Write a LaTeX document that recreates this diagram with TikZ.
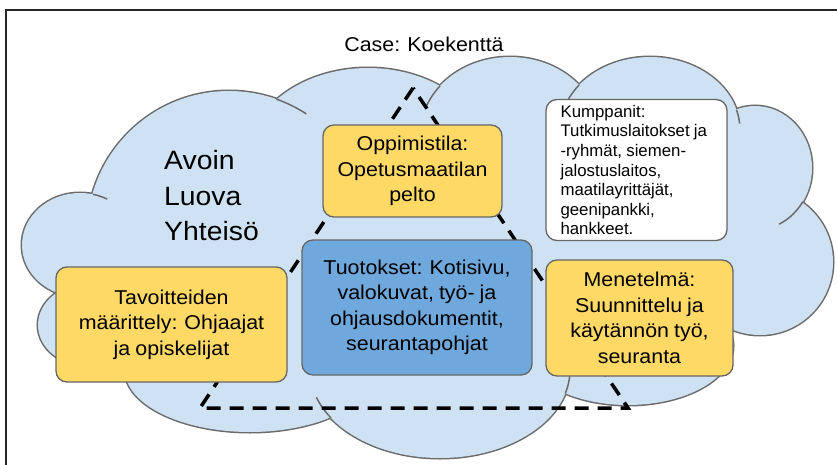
\documentclass[tikz,border=0pt]{standalone}
\usepackage{fontspec}
\setmainfont{Liberation Sans}[FakeStretch=1.07,WordSpace=0.85]
\newfontfamily\kumpfont{Liberation Sans}[WordSpace=0.9]
\usetikzlibrary{calc}
\definecolor{cloudfill}{HTML}{CFE2F3}
\definecolor{cloudline}{HTML}{6B6B6B}
\definecolor{boxyellow}{HTML}{FFD966}
\definecolor{boxblue}{HTML}{6FA8DC}
\definecolor{boxline}{HTML}{666666}
\begin{document}
\begin{tikzpicture}[x=1pt,y=-1pt,
  box/.style={draw=boxline, line width=1.3pt, rounded corners=11pt, inner sep=0pt, align=center, font=\fontsize{20}{25.5}\selectfont},
  lumpline/.style={draw=cloudline, line width=3pt},
  lumpfill/.style={fill=cloudfill},
  tail/.style={draw=cloudline, line width=1.5pt},
  tri/.style={line width=3.5pt, dash pattern=on 14pt off 9pt, line join=miter},
  frame/.style={line width=2pt, draw=black!85}]
\useasboundingbox (0,0) rectangle (837,465);
% frame (top and left sides)
\coordinate (ftl) at (6,10);
\coordinate (ftr) at (837,10);
\coordinate (fbl) at (6,465);
\draw[frame] (ftr) -- (ftl) -- (fbl);
% cloud lumps: outline pass
\foreach \cx/\cy/\rx/\ry in {80/245/58/52, 90/325/52/42, 250/370/125/62, 440/370/130/88, 628/346/105/59, 760/262/73/73, 755/168/57/62, 650/130/90/73, 510/135/90/78, 368/158/120/90, 229/233/142/142}
  \draw[lumpline] (\cx,\cy) ellipse [x radius=\rx, y radius=\ry];
% cloud lumps: fill pass
\foreach \cx/\cy/\rx/\ry in {80/245/58/52, 90/325/52/42, 250/370/125/62, 440/370/130/88, 628/346/105/59, 760/262/73/73, 755/168/57/62, 650/130/90/73, 510/135/90/78, 368/158/120/90, 229/233/142/142, 430/245/330/140}
  \fill[lumpfill] (\cx,\cy) ellipse [x radius=\rx, y radius=\ry];
% cloud inner tails
\foreach \cx/\cy/\rx/\ry/\aa/\ab in {229/233/142/142/-70.5/-57, 80/245/58/52/-77/-62, 510/135/90/78/-141/-158, 650/130/90/73/-142/-155, 650/130/90/73/-16/-5, 755/168/57/62/33/65, 440/370/130/88/147/162, 440/370/130/88/15.5/3}
  \draw[tail] ({\cx+\rx*cos(\aa)},{\cy+\ry*sin(\aa)}) arc[start angle=\aa, end angle=\ab, x radius=\rx, y radius=\ry];
% dashed triangle
\coordinate (apex) at (413,88);
\coordinate (tbl) at (200,408);
\coordinate (tbr) at (628,408);
\draw[tri] (apex) -- (tbl) -- (tbr) -- cycle;
% boxes
\node[box, fill=boxyellow, minimum width=179pt, minimum height=92pt] (oppi) at (412.5,171) {Oppimistila:\\Opetusmaatilan\\pelto};
\node[box, fill=boxblue, minimum width=230pt, minimum height=135pt] (tuot) at (417,307.5) {Tuotokset: Kotisivu,\\valokuvat, työ- ja\\ohjausdokumentit,\\seurantapohjat};
\node[box, fill=boxyellow, minimum width=231pt, minimum height=115pt] (tav) at (171.5,324.5) {Tavoitteiden\\määrittely: Ohjaajat\\ja opiskelijat};
\node[box, fill=boxyellow, minimum width=187pt, minimum height=116pt] (men) at (639.5,318) {Menetelmä:\\Suunnittelu ja\\käytännön työ,\\seuranta};
\node[box, fill=white, minimum width=181pt, minimum height=141pt] (kump) at (636.5,170) {};
\node[anchor=west, align=left, inner sep=0pt, font=\kumpfont\fontsize{16.8}{19.6}\selectfont] (kumptext) at ([xshift=15pt]kump.west) {Kumppanit:\\Tutkimuslaitokset ja\\-ryhmät, siemen-\\jalostuslaitos,\\maatilayrittäjät,\\geenipankki,\\hankkeet.};
% free texts
\node[anchor=base, inner sep=0pt, font=\fontsize{20}{23}\selectfont] (case) at (424,52) {Case: Koekenttä};
\node[anchor=base west, inner sep=0pt, font=\fontsize{26.5}{35}\selectfont] (av1) at (164,170) {Avoin};
\node[anchor=base west, inner sep=0pt, font=\fontsize{26.5}{35}\selectfont] (av2) at (164,205) {Luova};
\node[anchor=base west, inner sep=0pt, font=\fontsize{26.5}{35}\selectfont] (av3) at (164,240) {Yhteisö};
\end{tikzpicture}
\end{document}
